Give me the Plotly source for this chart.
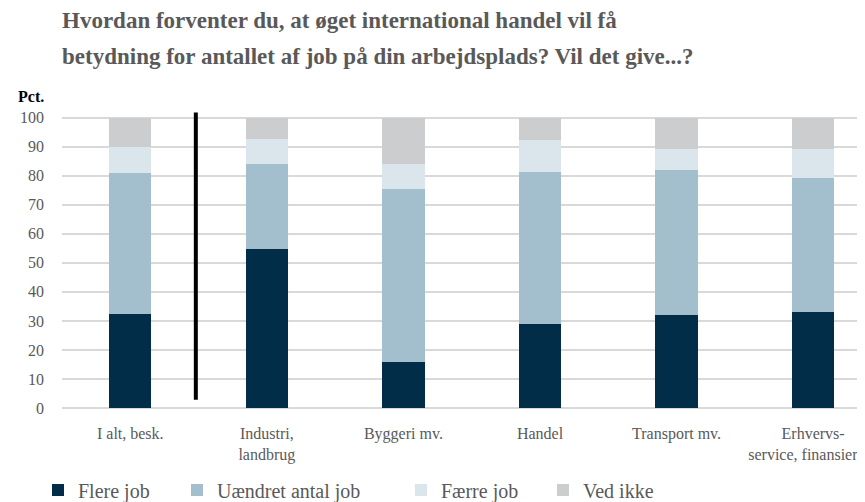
import plotly.graph_objects as go

# Data (pct.)
kategorier = ["I alt, besk.", "Industri,<br>landbrug", "Byggeri mv.", "Handel",
              "Transport mv.", "Erhvervs-<br>service, finansiering"]
flere_job = [32.5, 54.8, 15.8, 28.8, 32.0, 33.0]
uaendret_job = [48.3, 29.1, 59.8, 52.4, 49.9, 46.1]
faerre_job = [9.0, 8.6, 8.4, 11.2, 7.3, 10.1]
ved_ikke = [10.2, 7.5, 16.0, 7.6, 10.8, 10.8]

serier = [
    ("Flere job", flere_job, "#012d49"),
    ("Uændret antal job", uaendret_job, "#a3becd"),
    ("Færre job", faerre_job, "#dae5ec"),
    ("Ved ikke", ved_ikke, "#cccdcf"),
]

SERIF = "Liberation Serif, Times New Roman, serif"
TEKST_GRAA = "#595959"

# siden har 8px body-margin, saa figuren goeres tilsvarende mindre
BREDDE, HOEJDE = 857, 494
plot_venstre, plot_bredde = 54, 803
plot_top, plot_bund = 101.3, 400.0

def paper_y(py):
    return (plot_bund - py) / (plot_bund - plot_top)

def paper_x(px):
    return (px - plot_venstre) / plot_bredde

# hver serie faar sin egen legende, saa afstanden svarer til originalen
legender = ["legend", "legend2", "legend3", "legend4"]
legende_x = [30, 169, 393, 535]

fig = go.Figure()
for (navn, vaerdier, farve), leg in zip(serier, legender):
    fig.add_trace(go.Bar(
        x=list(range(len(kategorier))),
        y=vaerdier,
        name=navn,
        marker_color=farve,
        marker_line_width=0,
        width=0.31,
        legend=leg,
    ))

# Separator mellem "I alt" og brancherne
fig.add_shape(type="line", xref="x", yref="y", x0=0.48, x1=0.48, y0=2.8, y1=101.8,
              line=dict(color="black", width=4))

titel_linjer = ["Hvordan forventer du, at øget international handel vil få",
                "betydning for antallet af job på din arbejdsplads? Vil det give...?"]
for linje, py in zip(titel_linjer, [13, 49]):
    fig.add_annotation(text="<b>" + linje + "</b>", xref="paper", yref="paper",
                       x=paper_x(52), y=paper_y(py), xanchor="left", yanchor="middle",
                       showarrow=False, font=dict(family=SERIF, size=23, color=TEKST_GRAA))
fig.add_annotation(text="<b>Pct.</b>", xref="paper", yref="paper",
                   x=paper_x(8), y=paper_y(89), xanchor="left", yanchor="middle",
                   showarrow=False, font=dict(family=SERIF, size=16, color="black"))

legend_stil = dict(orientation="h", yanchor="middle", y=paper_y(482), xanchor="left",
                   font=dict(family=SERIF, size=20, color=TEKST_GRAA),
                   itemwidth=30, bgcolor="rgba(0,0,0,0)")

fig.update_layout(
    width=BREDDE, height=HOEJDE,
    margin=dict(l=plot_venstre, r=BREDDE - plot_venstre - plot_bredde,
                t=plot_top, b=HOEJDE - plot_bund, autoexpand=False),
    barmode="stack",
    showlegend=True,
    plot_bgcolor="white",
    paper_bgcolor="white",
    font=dict(family=SERIF, size=15, color=TEKST_GRAA),
    xaxis=dict(
        range=[-0.5, 5.38],
        tickmode="array",
        tickvals=list(range(len(kategorier))),
        ticktext=kategorier,
        showgrid=False,
        zeroline=False,
        showline=False,
        ticks="outside", ticklen=11, tickcolor="white",
        ticklabeloverflow="allow",
        tickfont=dict(family=SERIF, size=16, color=TEKST_GRAA),
    ),
    yaxis=dict(
        range=[0, 103],
        dtick=10,
        showgrid=True, gridcolor="#d9d9d9", gridwidth=1.5,
        zeroline=True, zerolinecolor="#d9d9d9", zerolinewidth=1.5,
        showline=False,
        ticklabelstandoff=17,
        tickfont=dict(family=SERIF, size=16, color=TEKST_GRAA),
    ),
)
for leg, px in zip(legender, legende_x):
    fig.update_layout({leg: dict(legend_stil, x=paper_x(px))})

fig.write_html("out.html")
